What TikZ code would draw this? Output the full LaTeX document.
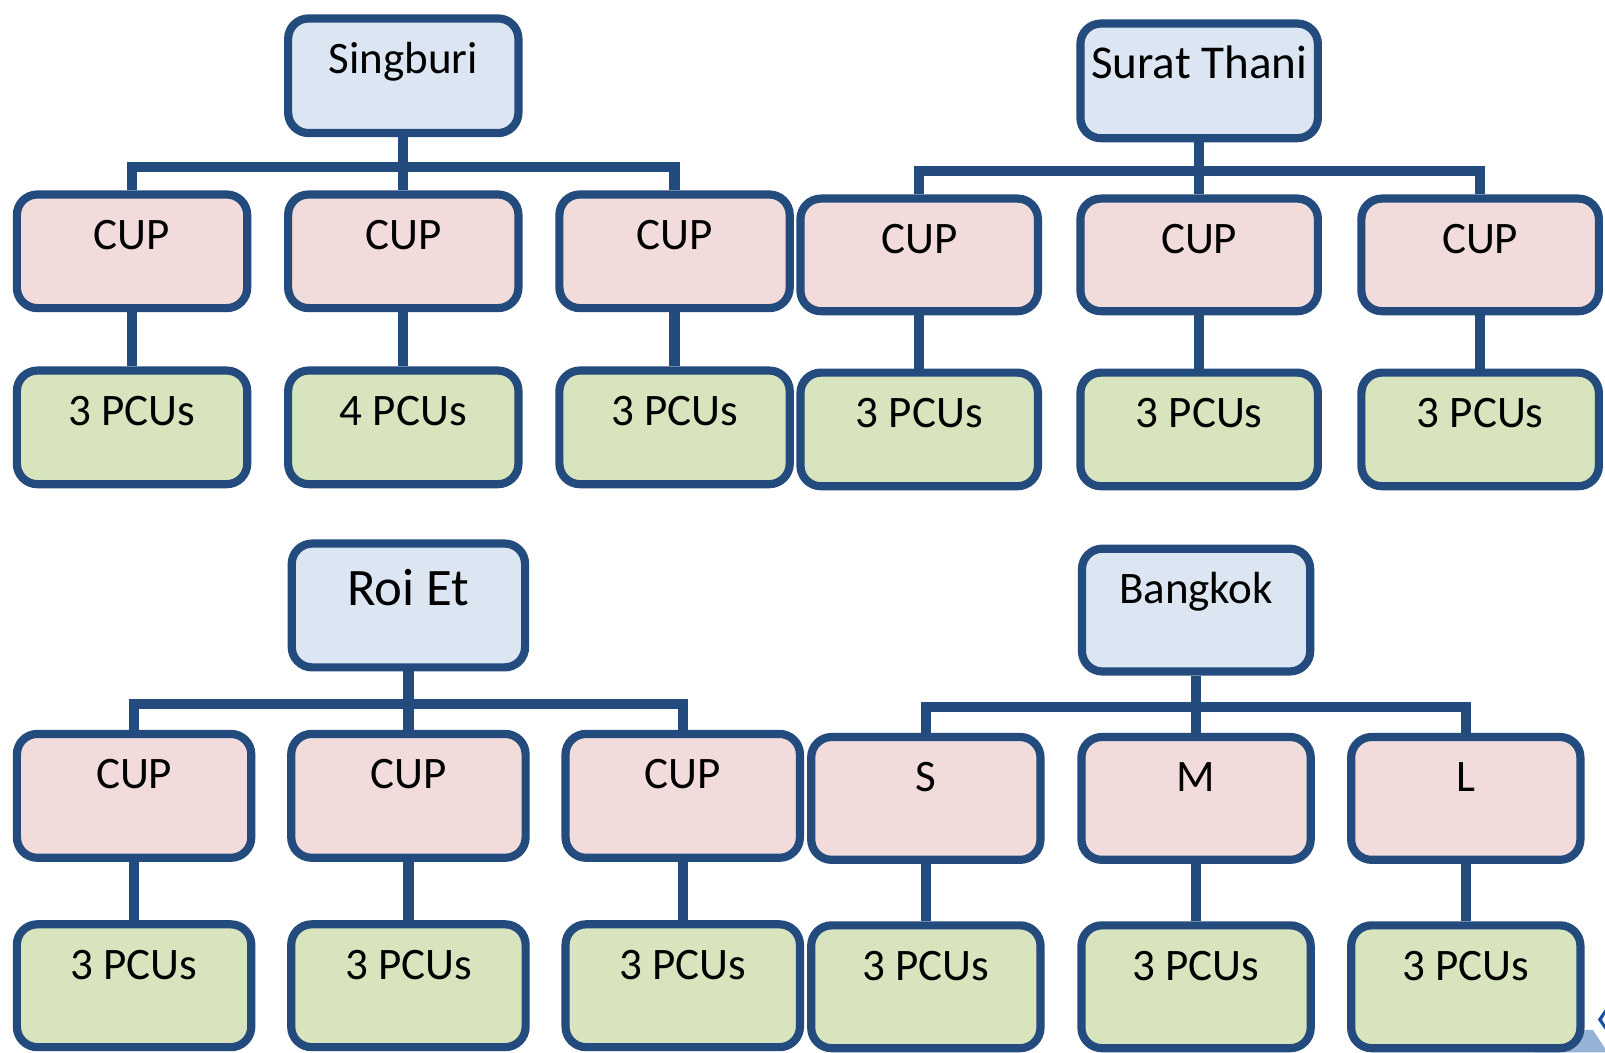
\documentclass[tikz,border=0pt]{standalone}
\usepackage{fontspec}
\setmainfont{Carlito}
\definecolor{navyline}{HTML}{234B7D}
\definecolor{headfill}{HTML}{DCE6F2}
\definecolor{unitfill}{HTML}{F2DCDB}
\definecolor{pcufill}{HTML}{D7E4BD}
\definecolor{decolight}{HTML}{95B3D7}
\definecolor{decodark}{HTML}{1550A8}

% rounded box: name, fill, centre x, outer top, outer bottom, outer width, baseline depth, text
\newcommand\OBox[8]{%
  \pgfmathsetmacro\OBh{#5-#4-8}%
  \pgfmathsetmacro\OBw{#6-8}%
  \pgfmathsetmacro\OBt{#7-4}%
  \pgfmathsetmacro\OBd{\OBh-\OBt}%
  \node[orgbox, fill=#2, minimum width=\OBw pt, minimum height=\OBh pt,
        text height=\OBt pt, text depth=\OBd pt] (#1) at (#3,#4+4) {#8};}

\begin{document}
\begin{tikzpicture}[x=1pt,y=-1pt,
  orgbox/.style={draw=navyline, line width=8pt, rounded corners=20pt,
                 inner sep=0pt, anchor=north, font=\fontsize{44}{50}\selectfont},
  link/.style={draw=navyline, line width=10pt, line join=miter}]

\fill[white] (0,0) rectangle (1568,1028);
\useasboundingbox (0,0) rectangle (1568,1028);

% corner ornament
\fill[decolight] (1500,1006) -- (1556,1006) -- (1568,1024) -- (1568,1028) -- (1500,1028) -- cycle;
\fill[decodark] (1568,986) -- (1561,996) -- (1568,1006) -- (1568,1001) -- (1565,996) -- (1568,991) -- cycle;

% ---------- Singburi ----------
\OBox{A}{headfill}{394}{10}{130}{233}{57.5}{Singburi}
\OBox{a1}{unitfill}{129}{182}{301}{233}{57.5}{CUP}
\OBox{a2}{unitfill}{394}{182}{301}{233}{57.5}{CUP}
\OBox{a3}{unitfill}{659}{182}{301}{233}{57.5}{CUP}
\OBox{pa1}{pcufill}{129}{354}{473}{233}{57.5}{3 PCUs}
\OBox{pa2}{pcufill}{394}{354}{473}{233}{57.5}{4 PCUs}
\OBox{pa3}{pcufill}{659}{354}{473}{233}{57.5}{3 PCUs}
\coordinate (barA) at (394,163);
\draw[link] (a1.north) |- (barA) -| (a3.north);
\draw[link] (A.south) -- (a2.north);
\draw[link] (a1.south) -- (pa1.north);
\draw[link] (a2.south) -- (pa2.north);
\draw[link] (a3.south) -- (pa3.north);

% ---------- Surat Thani ----------
\OBox{B}{headfill}{1171.5}{15}{135}{240}{57.5}{\fontsize{46}{52}\selectfont Surat Thani}
\OBox{b1}{unitfill}{898}{186}{304}{240}{57.5}{CUP}
\OBox{b2}{unitfill}{1171.5}{186}{304}{240}{57.5}{CUP}
\OBox{b3}{unitfill}{1446}{186}{304}{240}{57.5}{CUP}
\OBox{pb1}{pcufill}{898}{356}{475}{240}{57.5}{3 PCUs}
\OBox{pb2}{pcufill}{1171.5}{356}{475}{240}{57.5}{3 PCUs}
\OBox{pb3}{pcufill}{1446}{356}{475}{240}{57.5}{3 PCUs}
\coordinate (barB) at (1171.5,167);
\draw[link] (b1.north) |- (barB) -| (b3.north);
\draw[link] (B.south) -- (b2.north);
\draw[link] (b1.south) -- (pb1.north);
\draw[link] (b2.south) -- (pb2.north);
\draw[link] (b3.south) -- (pb3.north);

% ---------- Roi Et ----------
\OBox{C}{headfill}{399}{523}{652}{236}{65}{\fontsize{51.5}{58}\selectfont Roi Et}
\OBox{c1}{unitfill}{131}{709}{838}{237}{57.5}{CUP}
\OBox{c2}{unitfill}{399}{709}{838}{237}{57.5}{CUP}
\OBox{c3}{unitfill}{667}{709}{838}{237}{57.5}{CUP}
\OBox{pc1}{pcufill}{131}{895}{1023}{237}{57.5}{3 PCUs}
\OBox{pc2}{pcufill}{399}{895}{1023}{237}{57.5}{3 PCUs}
\OBox{pc3}{pcufill}{667}{895}{1023}{237}{57.5}{3 PCUs}
\coordinate (barC) at (399,688);
\draw[link] (c1.north) |- (barC) -| (c3.north);
\draw[link] (C.south) -- (c2.north);
\draw[link] (c1.south) -- (pc1.north);
\draw[link] (c2.south) -- (pc2.north);
\draw[link] (c3.south) -- (pc3.north);

% ---------- Bangkok ----------
\OBox{D}{headfill}{1168.5}{528}{656}{231}{57.5}{Bangkok}
\OBox{d1}{unitfill}{904.5}{712}{840}{232}{57.5}{S}
\OBox{d2}{unitfill}{1168.5}{712}{840}{232}{57.5}{M}
\OBox{d3}{unitfill}{1432}{712}{840}{232}{57.5}{L}
\OBox{pd1}{pcufill}{904.5}{896}{1024}{232}{57.5}{3 PCUs}
\OBox{pd2}{pcufill}{1168.5}{896}{1024}{232}{57.5}{3 PCUs}
\OBox{pd3}{pcufill}{1432}{896}{1024}{232}{57.5}{3 PCUs}
\coordinate (barD) at (1168.5,691);
\draw[link] (d1.north) |- (barD) -| (d3.north);
\draw[link] (D.south) -- (d2.north);
\draw[link] (d1.south) -- (pd1.north);
\draw[link] (d2.south) -- (pd2.north);
\draw[link] (d3.south) -- (pd3.north);
\end{tikzpicture}
\end{document}
